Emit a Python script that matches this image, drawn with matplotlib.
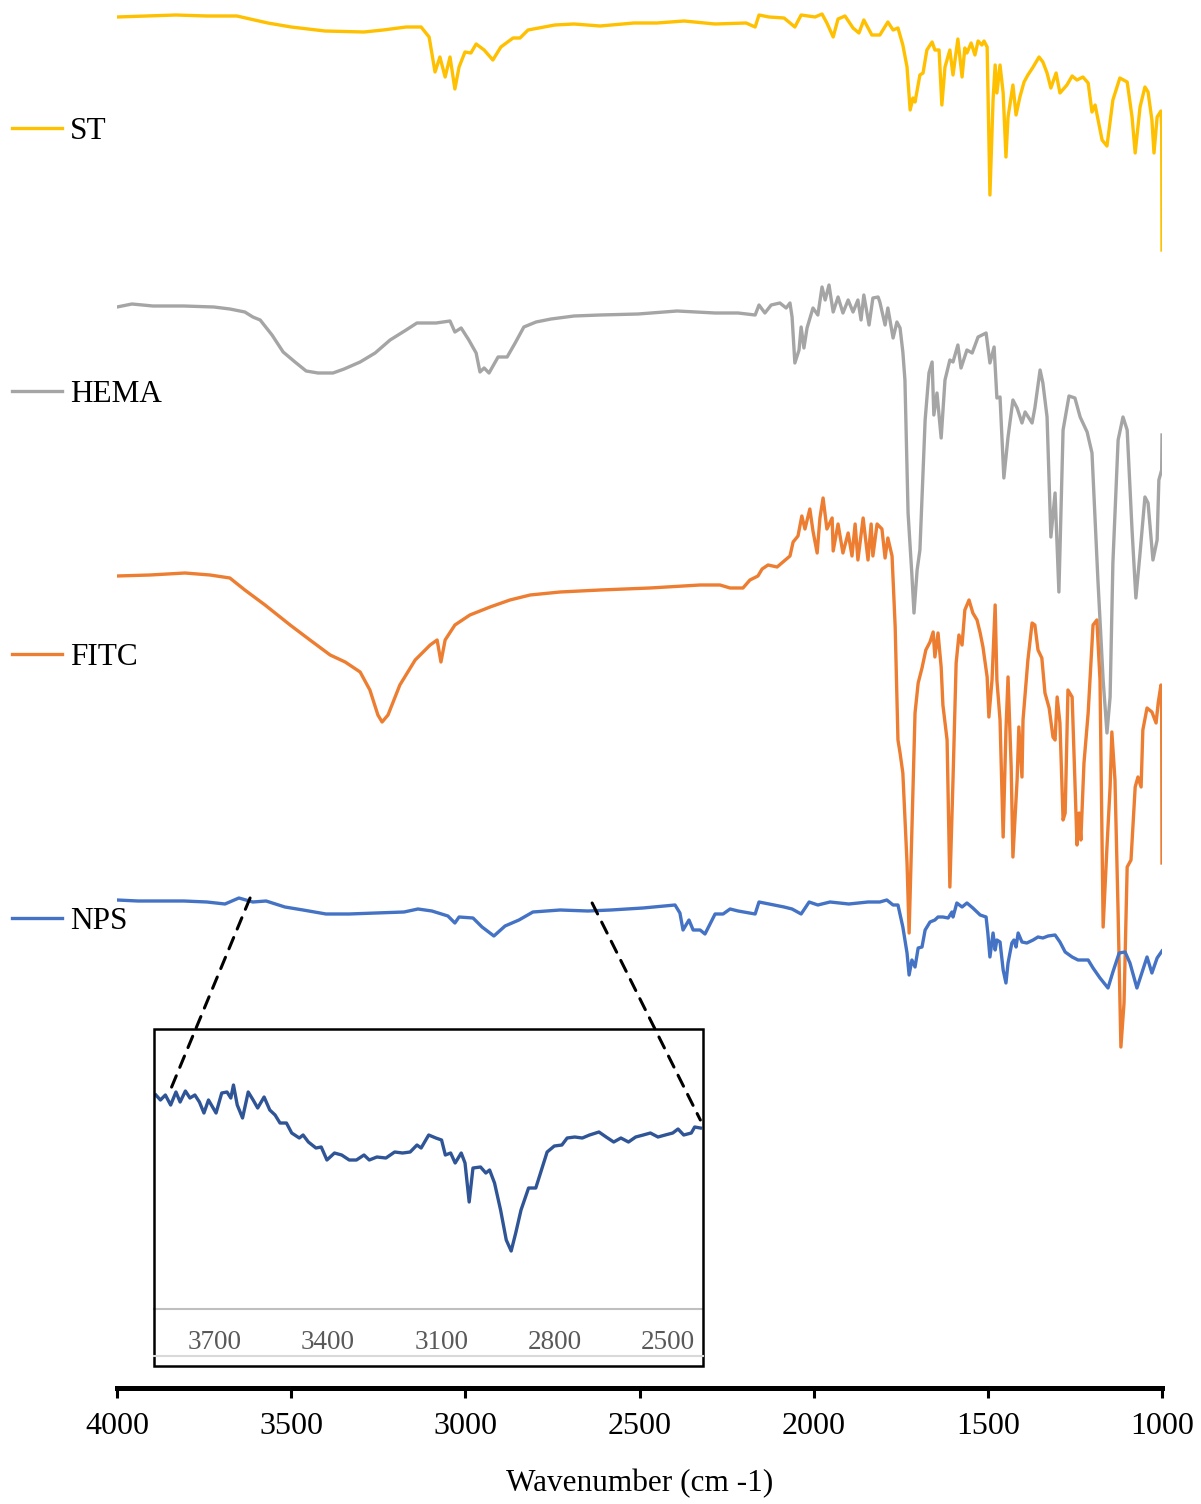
import matplotlib
matplotlib.use('Agg')
import matplotlib.pyplot as plt
from matplotlib.patches import Rectangle, ConnectionPatch
from matplotlib.lines import Line2D

plt.rcParams['font.family'] = 'Liberation Serif'

# FTIR spectra, transmittance (a.u., stacked with offsets)
st_wn = [4000, 3831, 3742, 3656, 3567, 3500, 3403, 3291, 3236, 3170, 3127, 3104, 3087, 3073, 3058,
         3044, 3030, 3018, 3001, 2984, 2969, 2946, 2921, 2898, 2863, 2843, 2820, 2743, 2688, 2613,
         2516, 2450, 2372, 2283, 2194, 2168, 2157, 2128, 2085, 2054, 2036, 1996, 1976, 1962, 1944,
         1930, 1910, 1887, 1870, 1856, 1833, 1810, 1787, 1772, 1758, 1744, 1732, 1723, 1715, 1709,
         1695, 1686, 1675, 1660, 1652, 1640, 1632, 1623, 1609, 1600, 1586, 1574, 1566, 1560, 1548,
         1537, 1528, 1517, 1511, 1502, 1500, 1494, 1485, 1479, 1474, 1465, 1456, 1448, 1442, 1428,
         1419, 1408, 1396, 1385, 1370, 1353, 1342, 1330, 1319, 1304, 1293, 1273, 1258, 1244, 1227,
         1212, 1201, 1192, 1172, 1158, 1141, 1121, 1100, 1086, 1077, 1063, 1049, 1040, 1029, 1023,
         1014, 1003, 1001, 1000]
st_t = [137.1, 137.3, 137.2, 137.2, 136.5, 136.1, 135.7, 135.6, 135.8, 136.1, 136.1, 135.1, 131.6, 133.1, 131.1,
        133.1, 129.9, 132.1, 133.6, 133.5, 134.4, 133.8, 132.8, 134.1, 135.0, 135.0, 135.8, 136.3, 136.4, 136.2,
        136.5, 136.5, 136.7, 136.4, 136.5, 136.1, 137.3, 137.1, 137.0, 136.1, 137.3, 137.1, 137.4, 136.5, 135.1,
        136.9, 137.2, 136.0, 135.5, 136.8, 135.3, 135.3, 136.6, 135.8, 136.0, 134.3, 132.1, 127.8, 129.0, 128.6,
        131.3, 131.5, 133.8, 134.6, 133.8, 133.8, 128.3, 132.1, 133.8, 131.3, 134.9, 131.1, 134.0, 133.5, 134.5,
        133.3, 134.7, 134.3, 134.7, 134.1, 130.5, 119.3, 128.8, 132.3, 129.5, 132.3, 129.5, 123.1, 127.1, 130.3,
        127.3, 129.1, 130.6, 131.3, 132.1, 133.1, 132.6, 131.5, 130.0, 131.5, 129.5, 130.3, 131.2, 130.8, 131.1,
        130.5, 127.6, 128.3, 124.8, 124.2, 128.8, 131.0, 130.6, 127.1, 123.5, 128.1, 130.1, 129.6, 126.8, 123.5,
        127.1, 127.7, 126.1, 113.8]

hema_wn = [4000, 3957, 3897, 3808, 3722, 3676, 3633, 3610, 3589, 3555, 3523, 3489, 3457, 3423, 3380,
           3348, 3302, 3259, 3216, 3170, 3139, 3084, 3044, 3030, 3012, 2990, 2969, 2958, 2946, 2932,
           2906, 2880, 2857, 2832, 2797, 2754, 2688, 2613, 2504, 2392, 2283, 2217, 2168, 2157, 2140,
           2122, 2097, 2079, 2068, 2062, 2054, 2042, 2036, 2028, 2019, 2002, 1988, 1976, 1967, 1956,
           1944, 1930, 1916, 1901, 1887, 1873, 1864, 1856, 1841, 1830, 1815, 1810, 1795, 1787, 1772,
           1761, 1752, 1744, 1738, 1729, 1718, 1712, 1703, 1695, 1680, 1669, 1660, 1655, 1646, 1634,
           1623, 1609, 1600, 1586, 1577, 1560, 1545, 1528, 1505, 1494, 1482, 1474, 1465, 1454, 1442,
           1428, 1416, 1402, 1393, 1373, 1365, 1350, 1342, 1330, 1319, 1307, 1296, 1284, 1267, 1250,
           1235, 1215, 1201, 1184, 1169, 1158, 1149, 1141, 1126, 1112, 1100, 1086, 1075, 1063, 1049,
           1040, 1026, 1014, 1009, 1001, 1000]
hema_t = [108.1, 108.4, 108.2, 108.2, 108.1, 107.9, 107.6, 107.1, 106.8, 105.3, 103.6, 102.6, 101.7, 101.5, 101.5,
          101.9, 102.6, 103.5, 104.8, 105.8, 106.5, 106.5, 106.7, 105.6, 106.0, 104.8, 103.5, 101.6, 102.0, 101.5,
          103.1, 103.1, 104.5, 106.1, 106.6, 106.9, 107.2, 107.3, 107.4, 107.7, 107.5, 107.5, 107.3, 108.3, 107.5,
          108.3, 108.5, 108.0, 108.5, 107.1, 102.5, 103.8, 106.1, 104.0, 106.0, 108.0, 107.3, 110.1, 108.8, 110.3,
          107.6, 109.1, 107.5, 108.8, 107.6, 108.8, 106.8, 109.3, 106.3, 109.0, 109.1, 108.6, 106.3, 108.0, 105.0,
          106.6, 106.0, 103.6, 100.8, 87.5, 81.3, 77.5, 81.8, 83.8, 96.8, 101.5, 102.6, 97.3, 99.5, 95.0,
          100.8, 102.8, 102.6, 104.3, 102.0, 103.8, 103.5, 105.1, 105.5, 102.5, 104.1, 99.0, 99.1, 91.0, 95.1,
          98.8, 98.0, 96.5, 97.6, 96.5, 98.0, 101.8, 100.5, 97.1, 85.1, 89.5, 79.6, 95.8, 99.2, 99.0,
          97.1, 95.6, 93.5, 80.8, 70.8, 65.5, 69.1, 82.5, 94.8, 97.1, 95.8, 85.8, 79.0, 83.5, 89.1,
          88.5, 82.8, 84.8, 90.8, 91.8, 95.3]

fitc_wn = [4000, 3905, 3805, 3733, 3676, 3633, 3575, 3503, 3446, 3388, 3345, 3302, 3274, 3251, 3239,
           3222, 3188, 3144, 3101, 3081, 3070, 3058, 3030, 2987, 2929, 2872, 2814, 2728, 2613, 2470,
           2326, 2269, 2240, 2203, 2183, 2160, 2148, 2131, 2105, 2088, 2068, 2059, 2045, 2034, 2025,
           2011, 2002, 1990, 1982, 1973, 1962, 1947, 1944, 1930, 1916, 1901, 1890, 1881, 1873, 1858,
           1844, 1835, 1830, 1818, 1804, 1795, 1787, 1775, 1766, 1758, 1752, 1744, 1732, 1726, 1718,
           1709, 1700, 1689, 1678, 1666, 1657, 1652, 1643, 1634, 1629, 1617, 1609, 1600, 1591, 1583,
           1574, 1566, 1554, 1543, 1531, 1522, 1514, 1502, 1497, 1488, 1479, 1474, 1465, 1456, 1448,
           1442, 1433, 1428, 1416, 1411, 1402, 1399, 1385, 1373, 1365, 1356, 1345, 1336, 1324, 1313,
           1307, 1301, 1293, 1284, 1278, 1270, 1258, 1250, 1244, 1238, 1233, 1224, 1212, 1198, 1187,
           1178, 1169, 1158, 1149, 1144, 1135, 1126, 1118, 1109, 1100, 1089, 1077, 1069, 1060, 1055,
           1043, 1029, 1017, 1011, 1003, 1001, 1000]
fitc_t = [81.2, 81.3, 81.5, 81.3, 81.0, 79.8, 78.3, 76.3, 74.8, 73.3, 72.6, 71.6, 69.8, 67.3, 66.6,
          67.3, 70.3, 72.8, 74.3, 74.8, 72.6, 74.8, 76.3, 77.3, 78.1, 78.8, 79.3, 79.6, 79.8, 80.0,
          80.3, 80.3, 80.0, 80.0, 80.8, 81.2, 81.9, 82.3, 82.1, 82.6, 83.2, 84.6, 85.2, 87.2, 85.9,
          87.9, 85.7, 83.5, 87.0, 89.0, 85.9, 87.0, 83.7, 86.4, 83.5, 85.5, 83.2, 86.4, 82.8, 87.0,
          82.8, 86.4, 83.2, 86.4, 85.9, 83.0, 85.0, 83.2, 76.1, 64.8, 63.5, 61.5, 52.5, 45.5, 55.8,
          67.5, 70.5, 72.0, 73.8, 74.6, 75.6, 73.1, 75.5, 72.1, 68.3, 64.8, 50.1, 60.8, 72.5, 75.3,
          74.3, 77.8, 78.8, 77.5, 76.8, 75.5, 74.1, 71.1, 67.1, 70.8, 78.3, 70.8, 66.8, 55.1, 65.8,
          71.1, 62.1, 53.1, 60.8, 66.1, 61.1, 66.8, 72.8, 76.5, 76.3, 73.8, 73.0, 69.5, 68.0, 65.1,
          64.8, 69.1, 66.5, 56.8, 57.5, 69.8, 69.1, 60.8, 54.3, 57.5, 54.8, 62.5, 67.5, 76.3, 76.8,
          70.8, 46.1, 54.1, 60.1, 65.6, 60.8, 47.5, 34.1, 38.5, 52.1, 52.8, 60.1, 61.1, 60.1, 65.8,
          68.0, 67.6, 66.5, 68.5, 70.3, 67.5, 52.5]

nps_wn = [4000, 3940, 3808, 3742, 3690, 3650, 3610, 3572, 3518, 3466, 3400, 3334, 3256, 3176, 3136,
          3096, 3050, 3030, 3018, 2978, 2952, 2918, 2886, 2846, 2806, 2728, 2648, 2582, 2490, 2398,
          2384, 2375, 2358, 2346, 2326, 2312, 2283, 2260, 2240, 2217, 2168, 2157, 2128, 2085, 2062,
          2036, 2013, 1988, 1953, 1899, 1844, 1810, 1790, 1772, 1758, 1744, 1732, 1726, 1718, 1709,
          1700, 1689, 1680, 1666, 1652, 1643, 1629, 1614, 1603, 1600, 1589, 1574, 1560, 1543, 1522,
          1505, 1500, 1494, 1485, 1479, 1474, 1465, 1456, 1448, 1442, 1431, 1425, 1419, 1413, 1402,
          1388, 1370, 1356, 1342, 1327, 1307, 1293, 1278, 1258, 1241, 1212, 1198, 1178, 1155, 1141,
          1123, 1106, 1092, 1072, 1057, 1043, 1029, 1014, 1000]
nps_t = [48.8, 48.7, 48.7, 48.6, 48.4, 49.0, 48.6, 48.7, 48.1, 47.8, 47.4, 47.4, 47.5, 47.6, 47.9,
         47.7, 47.2, 46.5, 47.1, 47.0, 46.1, 45.2, 46.2, 46.8, 47.6, 47.8, 47.7, 47.8, 48.0, 48.3,
         47.5, 45.8, 46.8, 45.8, 45.8, 45.4, 47.4, 47.4, 47.9, 47.7, 47.4, 48.6, 48.4, 48.1, 47.9,
         47.4, 48.6, 48.3, 48.6, 48.4, 48.6, 48.6, 48.8, 48.3, 48.3, 46.1, 43.5, 41.3, 42.8, 42.1,
         44.0, 44.1, 45.8, 46.6, 46.8, 47.1, 47.1, 47.0, 47.6, 47.1, 48.5, 48.1, 48.5, 48.0, 47.3,
         47.1, 45.5, 43.1, 45.5, 43.8, 44.8, 44.6, 41.8, 40.5, 42.5, 44.5, 44.8, 44.1, 45.5, 44.6,
         44.5, 44.8, 45.1, 45.0, 45.2, 45.3, 44.6, 43.6, 43.1, 42.8, 42.8, 42.0, 41.0, 40.0, 41.6,
         43.5, 43.6, 42.5, 40.0, 41.6, 43.1, 41.5, 43.0, 43.7]

# inset: NPS, 3860-2410 cm-1 (own scale)
ins_wn = [3854, 3842, 3829, 3815, 3801, 3790, 3776, 3764, 3751, 3739, 3727, 3715, 3695, 3680, 3666,
          3656, 3649, 3639, 3625, 3610, 3597, 3585, 3568, 3553, 3539, 3526, 3509, 3495, 3475, 3465,
          3451, 3431, 3417, 3402, 3382, 3363, 3343, 3324, 3304, 3290, 3270, 3246, 3223, 3202, 3182,
          3164, 3153, 3133, 3114, 3099, 3089, 3075, 3063, 3047, 3037, 3026, 3016, 2996, 2982, 2972,
          2959, 2943, 2928, 2915, 2903, 2889, 2869, 2850, 2835, 2820, 2801, 2781, 2767, 2747, 2727,
          2708, 2683, 2664, 2644, 2625, 2605, 2586, 2566, 2547, 2527, 2508, 2488, 2474, 2459, 2439,
          2430, 2415]
ins_t = [21.4, 20.9, 21.4, 20.4, 21.7, 20.7, 21.8, 21.1, 21.4, 20.7, 19.6, 20.9, 19.6, 21.6, 21.7,
         21.1, 22.4, 20.4, 19.1, 21.7, 20.9, 20.1, 21.2, 19.9, 19.4, 18.6, 18.6, 17.6, 17.1, 17.4,
         16.7, 16.1, 16.2, 14.9, 15.6, 15.4, 14.9, 14.9, 15.4, 14.9, 15.2, 15.1, 15.7, 15.6, 15.7,
         16.4, 16.1, 17.4, 17.1, 16.9, 15.4, 15.6, 14.6, 15.6, 14.6, 10.7, 14.1, 14.2, 13.6, 13.9,
         12.6, 9.9, 6.9, 5.8, 7.6, 9.9, 12.1, 12.1, 13.9, 15.7, 16.3, 16.4, 17.1, 17.2, 17.1,
         17.4, 17.7, 17.2, 16.7, 17.1, 16.7, 17.2, 17.4, 17.6, 17.2, 17.4, 17.6, 18.0, 17.4, 17.6,
         18.2, 18.1]
ins_ticks = [3700, 3400, 3100, 2800, 2500]

labels = ['ST', 'HEMA', 'FITC', 'NPS']
colors = ['#FFC000', '#A5A5A5', '#ED7D31', '#4472C4']

fig = plt.figure(figsize=(12.01, 15.04), dpi=100)
ax = fig.add_axes([0.09742, 0.07713, 0.87011, 0.92287])
series = [(st_wn, st_t), (hema_wn, hema_t), (fitc_wn, fitc_t), (nps_wn, nps_t)]
for (wn, t), lab, c in zip(series, labels, colors):
    ax.plot(wn, t, color=c, lw=2.4, label=lab, solid_joinstyle='round')

ax.set_xlim(4000, 1000)
ax.set_ylim(0, 138.8)
for s in ['top', 'right', 'left']:
    ax.spines[s].set_visible(False)
ax.spines['bottom'].set_linewidth(3.6)
ax.set_yticks([])
ax.set_xticks([4000, 3500, 3000, 2500, 2000, 1500, 1000])
ax.tick_params(axis='x', direction='out', length=7.2, width=2.2, pad=10, labelsize=23)
ax.set_xlabel('Wavenumber (cm -1)', fontsize=22.5, labelpad=20)
ax.patch.set_alpha(0)

ax.legend(loc='upper left', bbox_to_anchor=(12 / 1201, 0.9225), bbox_transform=fig.transFigure,
          frameon=False, fontsize=22.5, handlelength=1.6, handletextpad=0.26,
          borderpad=0, borderaxespad=0, labelspacing=7.5)

# inset
axins = fig.add_axes([0.12823, 0.12965, 0.45712, 0.18617])
axins.plot(ins_wn, ins_t, color='#2F5597', lw=2.4)
axins.set_xlim(3859, 2408)
axins.set_ylim(0, 28)
for s in ['top', 'right', 'left']:
    axins.spines[s].set_visible(False)
axins.spines['bottom'].set_color('#BFBFBF')
axins.spines['bottom'].set_linewidth(1.5)
axins.set_yticks([])
axins.set_xticks(ins_ticks)
axins.tick_params(axis='x', length=0, pad=15, labelsize=19.5, labelcolor='#595959')
axins.patch.set_alpha(0)

fig.add_artist(Line2D([0.12823, 0.58535], [0.0984, 0.0984], transform=fig.transFigure,
                      color='#D9D9D9', lw=1.5))
fig.add_artist(Rectangle((0.12823, 0.09176), 0.45712, 0.22407, transform=fig.transFigure,
                         fill=False, edgecolor='black', lw=1.8))

for pa, pb in [((3618, 49.0), (3819, 21.6)), ((2636, 48.5), (2415, 18.9))]:
    con = ConnectionPatch(xyA=pa, coordsA=ax.transData, xyB=pb, coordsB=axins.transData,
                          color='black', lw=2.2, linestyle=(0, (4, 3)))
    fig.add_artist(con)

fig.savefig('out.png', dpi=100)
